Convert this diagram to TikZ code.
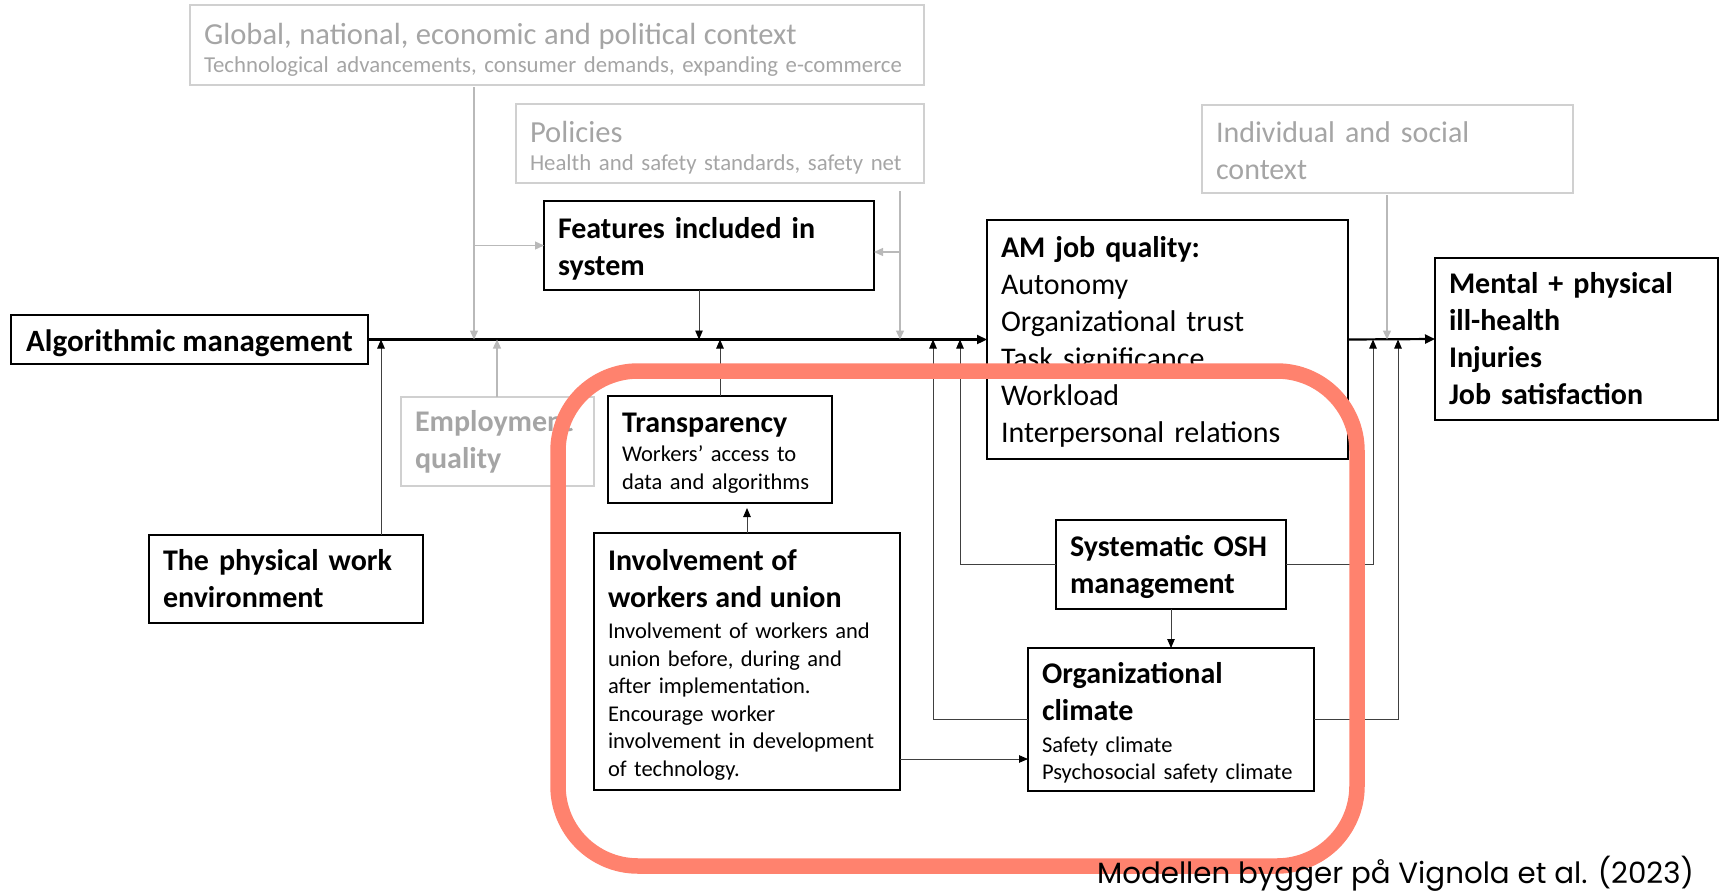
\documentclass[tikz,border=0pt]{standalone}
\usepackage{fontspec}
\setmainfont{Carlito}
\newfontfamily\footfont{Poppins}
\usetikzlibrary{arrows.meta}
\definecolor{ctxtext}{RGB}{165,165,165}
\definecolor{ctxline}{RGB}{208,208,208}
\definecolor{ctxarrow}{RGB}{185,185,185}
\definecolor{salmon}{RGB}{255,130,110}
\newcommand\fhead{\fontsize{30}{37}\selectfont\bfseries}
\newcommand\freg{\fontsize{30}{37}\selectfont}
\newcommand\fctx{\fontsize{30.6}{33}\selectfont}
\newcommand\fctxs{\fontsize{22.8}{28}\selectfont}
\newcommand\fsmall{\fontsize{22.5}{27.5}\selectfont}
\newcommand\topstrut[1]{\rule{0pt}{#1}}
\begin{document}
\begin{tikzpicture}[x=1pt,y=-1pt,
  box/.style={draw=black, line width=1.4pt, anchor=north west, align=left,
    inner xsep=14pt, inner ysep=0pt, outer sep=0pt},
  ctx/.style={box, draw=ctxline, text=ctxtext, line width=1.8pt},
  conn/.style={line width=0.9pt, draw=black!75, -{Triangle[length=9pt,width=7.5pt,color=black]}},
  gconn/.style={line width=1.3pt, draw=ctxarrow, -{Triangle[length=9pt,width=8pt]}},
  mainline/.style={line width=2.2pt, draw=black, -{Triangle[length=10pt,width=9pt]}}]
\useasboundingbox (0,0) rectangle (1721,892);

% context boxes
\node[ctx, at={(190,5)}, minimum width=734, minimum height=80, text width=706, font=\fctxs] (global)
  {{\fctx \topstrut{30pt}\mbox{Global, national, economic and political context}\par}\mbox{Technological advancements, consumer demands, expanding e-commerce}};
\node[ctx, at={(516,104)}, minimum width=408, minimum height=79, text width=380, font=\fctxs] (policies)
  {{\fctx \topstrut{30pt}Policies\par}\mbox{Health and safety standards, safety net}};
\node[ctx, at={(1202,105)}, minimum width=371, minimum height=88, text width=343, font=\freg] (indiv)
  {\topstrut{25pt}Individual and social\\context};
\node[ctx, at={(401,397)}, minimum width=193, minimum height=89, text width=165, font=\fhead] (emp)
  {Employment\\quality};

% main boxes
\node[box, at={(544,201)}, minimum width=330, minimum height=89, text width=302, font=\fhead] (features)
  {\topstrut{27pt}Features included in\\system};
\node[box, at={(987,220)}, minimum width=361, minimum height=239, text width=333, font=\freg] (jq)
  {{\bfseries \topstrut{26pt}AM job quality:}\\Autonomy\\Organizational trust\\Task significance\\Workload\\Interpersonal relations};
\node[box, at={(1435,258)}, minimum width=283, minimum height=162, text width=255, font=\fhead] (mental)
  {Mental + physical\\ill-health\\Injuries\\Job satisfaction};
\node[box, at={(11,315)}, minimum width=357, minimum height=49, font=\fontsize{31}{37}\selectfont\bfseries] (am)
  {\topstrut{29pt}Algorithmic management};
\node[box, at={(608,396)}, minimum width=224, minimum height=107, text width=196, font=\fsmall] (transp)
  {{\fhead \topstrut{26.7pt}Transparency\par}\vspace{1.5pt}Workers’ access to\\data and algorithms};
\node[box, at={(149,535)}, minimum width=274, minimum height=88, text width=246, font=\fhead] (phys)
  {The physical work\\environment};
\node[box, at={(594,533)}, minimum width=306, minimum height=257, text width=278, font=\fsmall] (inv)
  {{\fhead \topstrut{27pt}Involvement of\\workers and union\par}\vspace{4pt}Involvement of workers and\\union before, during and\\after implementation.\\Encourage worker\\involvement in development\\of technology.};
\node[box, at={(1056,520)}, minimum width=230, minimum height=89, text width=202, font=\fhead] (osh)
  {\topstrut{26.5pt}\mbox{Systematic OSH}\\management};
\node[box, at={(1028,648)}, minimum width=286, minimum height=143, text width=258, font=\fsmall] (org)
  {{\fhead \topstrut{28pt}Organizational\\climate\par}\vspace{4pt}Safety climate\\Psychosocial safety climate};

% helper coordinates (x positions of vertical connectors)
\coordinate (gx) at (474,0);
\coordinate (px) at (900,0);
\coordinate (pb) at (900,252);
\coordinate (fx) at (699,0);
\coordinate (tx) at (720,0);
\coordinate (ex) at (497,0);
\coordinate (phx) at (381,0);
\coordinate (ivx) at (747,0);
\coordinate (ivy) at (0,759);
\coordinate (l1) at (960,0);
\coordinate (l2) at (933,0);
\coordinate (r1) at (1373,0);
\coordinate (r2) at (1398,0);
\coordinate (isx) at (1387,0);

% connectors
\draw[mainline] (am.east) -- (jq.west);
\draw[mainline] (jq.east) -- (mental.west);

\draw[gconn, shorten <=2pt] (global.south -| gx) -- (gx |- am.east);
\draw[gconn] (gx |- features.west) -- (features.west);
\draw[gconn, shorten <=8pt] (policies.south -| px) -- (px |- am.east);
\draw[gconn] (pb) -- (features.east |- pb);
\draw[gconn] (emp.north -| ex) -- (ex |- am.east);
\draw[gconn, shorten <=2pt] (indiv.south -| isx) -- (isx |- am.east);

\draw[conn] (features.south -| fx) -- (fx |- am.east);
\draw[conn] (transp.north -| tx) -- (tx |- am.east);
\draw[conn] (phys.north -| phx) -- (phx |- am.east);
\draw[conn, shorten >=5pt] (inv.north -| ivx) -- (ivx |- transp.south);
\draw[conn] (inv.east |- ivy) -- (org.west |- ivy);
\draw[conn] (osh.south) -- (org.north);
\draw[conn] (osh.west) -| (l1 |- am.east);
\draw[conn] (org.west) -| (l2 |- am.east);
\draw[conn] (osh.east) -| (r1 |- am.east);
\draw[conn] (org.east) -| (r2 |- am.east);

% highlight
\draw[salmon, line width=15.5pt, rounded corners=80pt] (558,371) rectangle (1357,866);

% source note
\node[anchor=base east, inner sep=0pt, font=\footfont\fontsize{29.3}{32}\selectfont] (note) at (1694,883)
  {Modellen bygger på Vignola et al. (2023)};
\end{tikzpicture}
\end{document}
